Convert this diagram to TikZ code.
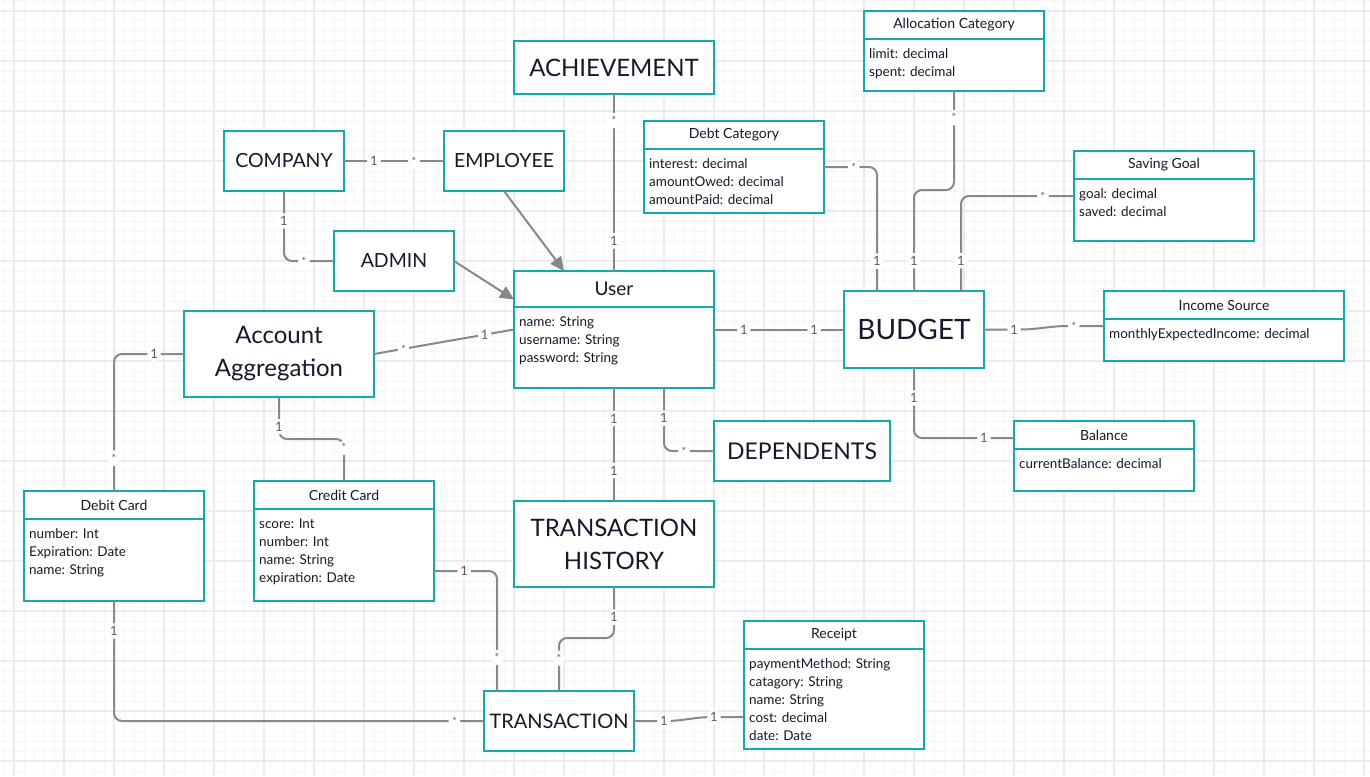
\documentclass[tikz,border=0pt]{standalone}
\usepackage{fontspec}
\setmainfont{Lato}
\usetikzlibrary{arrows.meta}

\definecolor{boxteal}{RGB}{18,170,170}
\definecolor{linkgray}{RGB}{136,136,136}
\definecolor{ink}{RGB}{24,24,44}
\definecolor{multgray}{RGB}{90,90,90}
\definecolor{gridmajor}{RGB}{236,236,236}
\definecolor{gridminor}{RGB}{246,246,246}

\begin{document}
\begin{tikzpicture}[x=1pt,y=-1pt,
    entity/.style={draw=boxteal, line width=2pt, fill=white, text=ink, inner sep=0pt, outer sep=0pt},
    classbox/.style={draw=boxteal, line width=2pt, fill=white, inner sep=0pt, outer sep=0pt, anchor=north},
    classname/.style={text=ink, font=\fontsize{14}{16}\selectfont, inner sep=0pt},
    attrs/.style={text=ink, font=\fontsize{13.5}{18}\selectfont, align=left, inner sep=0pt, anchor=north west},
    link/.style={draw=linkgray, line width=2pt, rounded corners=8pt},
    uses/.style={draw=linkgray, line width=2pt, -{Triangle[length=14pt,width=13pt]}},
    mult/.style={fill=white, text=multgray, font=\fontsize{13}{13}\selectfont, inner sep=3pt},
    many/.style={fill=white, text=multgray, font=\fontsize{11}{11}\selectfont, inner sep=3.5pt}]
    % background grid
    \useasboundingbox (0,0) rectangle (1370,776);
    \fill[white] (0,0) rectangle (1370,776);
    \foreach \gx in {4,14,...,1364} \draw[gridminor, line width=1pt] (\gx,0) -- (\gx,776);
    \foreach \gy in {1,11,...,771} \draw[gridminor, line width=1pt] (0,\gy) -- (1370,\gy);
    \foreach \gx in {14,64,...,1364} \draw[gridmajor, line width=1.6pt] (\gx,0) -- (\gx,776);
    \foreach \gy in {11,61,...,761} \draw[gridmajor, line width=1.6pt] (0,\gy) -- (1370,\gy);

    % plain entities
    \node[entity, minimum width=200, minimum height=53, font=\fontsize{24}{29}\selectfont] (achievement) at (614,67.5) {ACHIEVEMENT};
    \node[entity, minimum width=120, minimum height=60, font=\fontsize{19.5}{24}\selectfont] (company) at (284,161) {COMPANY};
    \node[entity, minimum width=120, minimum height=60, font=\fontsize{19.5}{24}\selectfont] (employee) at (504,161) {EMPLOYEE};
    \node[entity, minimum width=120, minimum height=60, font=\fontsize{19.5}{24}\selectfont] (admin) at (394,261) {ADMIN};
    \node[entity, minimum width=140, minimum height=77, font=\fontsize{28}{33}\selectfont] (budget) at (914,329.5) {BUDGET};
    \node[entity, minimum width=176, minimum height=60, font=\fontsize{23}{28}\selectfont] (dependents) at (802,451) {DEPENDENTS};
    \node[entity, minimum width=190, minimum height=86, align=center, font=\fontsize{24}{33}\selectfont] (aggregation) at (279,354) {Account\\Aggregation};
    \node[entity, minimum width=200, minimum height=86, align=center, font=\fontsize{24}{33}\selectfont] (history) at (614,544) {TRANSACTION\\HISTORY};
    \node[entity, minimum width=150, minimum height=60, font=\fontsize{20}{24}\selectfont] (transaction) at (559,721) {TRANSACTION};

    % classes
    \node[classbox, minimum width=200, minimum height=117] (user) at (614,271) {};
    \draw[boxteal, line width=2pt] ([yshift=-36]user.north west) -- ([yshift=-36]user.north east);
    \node[classname, font=\fontsize{19}{22}\selectfont] (user title) at ([yshift=-18]user.north) {User};
    \node[attrs] (user attrs) at ([xshift=5,yshift=-42.4]user.north west) {\strut name: String\\\strut username: String\\\strut password: String};

    \node[classbox, minimum width=180, minimum height=92] (debt) at (734,121) {};
    \draw[boxteal, line width=2pt] ([yshift=-28]debt.north west) -- ([yshift=-28]debt.north east);
    \node[classname] (debt title) at ([yshift=-14]debt.north) {Debt Category};
    \node[attrs] (debt attrs) at ([xshift=5,yshift=-34.4]debt.north west) {\strut interest: decimal\\\strut amountOwed: decimal\\\strut amountPaid: decimal};

    \node[classbox, minimum width=180, minimum height=80] (allocation) at (954,11) {};
    \draw[boxteal, line width=2pt] ([yshift=-28]allocation.north west) -- ([yshift=-28]allocation.north east);
    \node[classname] (allocation title) at ([yshift=-14]allocation.north) {Allocation Category};
    \node[attrs] (allocation attrs) at ([xshift=5,yshift=-34.4]allocation.north west) {\strut limit: decimal\\\strut spent: decimal};

    \node[classbox, minimum width=180, minimum height=90] (saving) at (1164,151) {};
    \draw[boxteal, line width=2pt] ([yshift=-28]saving.north west) -- ([yshift=-28]saving.north east);
    \node[classname] (saving title) at ([yshift=-14]saving.north) {Saving Goal};
    \node[attrs] (saving attrs) at ([xshift=5,yshift=-34.4]saving.north west) {\strut goal: decimal\\\strut saved: decimal};

    \node[classbox, minimum width=240, minimum height=70] (income) at (1224,291) {};
    \draw[boxteal, line width=2pt] ([yshift=-28]income.north west) -- ([yshift=-28]income.north east);
    \node[classname] (income title) at ([yshift=-14]income.north) {Income Source};
    \node[attrs] (income attrs) at ([xshift=5,yshift=-34.4]income.north west) {\strut monthlyExpectedIncome: decimal};

    \node[classbox, minimum width=180, minimum height=70] (balance) at (1104,421) {};
    \draw[boxteal, line width=2pt] ([yshift=-28]balance.north west) -- ([yshift=-28]balance.north east);
    \node[classname] (balance title) at ([yshift=-14]balance.north) {Balance};
    \node[attrs] (balance attrs) at ([xshift=5,yshift=-34.4]balance.north west) {\strut currentBalance: decimal};

    \node[classbox, minimum width=180, minimum height=110] (debit) at (114,491) {};
    \draw[boxteal, line width=2pt] ([yshift=-28]debit.north west) -- ([yshift=-28]debit.north east);
    \node[classname] (debit title) at ([yshift=-14]debit.north) {Debit Card};
    \node[attrs] (debit attrs) at ([xshift=5,yshift=-34.4]debit.north west) {\strut number: Int\\\strut Expiration: Date\\\strut name: String};

    \node[classbox, minimum width=180, minimum height=120] (credit) at (344,481) {};
    \draw[boxteal, line width=2pt] ([yshift=-28]credit.north west) -- ([yshift=-28]credit.north east);
    \node[classname] (credit title) at ([yshift=-14]credit.north) {Credit Card};
    \node[attrs] (credit attrs) at ([xshift=5,yshift=-34.4]credit.north west) {\strut score: Int\\\strut number: Int\\\strut name: String\\\strut expiration: Date};

    \node[classbox, minimum width=180, minimum height=128] (receipt) at (834,621) {};
    \draw[boxteal, line width=2pt] ([yshift=-28]receipt.north west) -- ([yshift=-28]receipt.north east);
    \node[classname] (receipt title) at ([yshift=-14]receipt.north) {Receipt};
    \node[attrs] (receipt attrs) at ([xshift=5,yshift=-34.4]receipt.north west) {\strut paymentMethod: String\\\strut catagory: String\\\strut name: String\\\strut cost: decimal\\\strut date: Date};

    % associations
    \draw[link] (company.east) -- node[mult, pos=0.3] (m1) {1} node[many, pos=0.7] (m2) {*} (employee.west);
    \draw[link] (company.south) |- node[mult, pos=0.214] (m3) {1} node[many, pos=0.7] (m4) {*} (admin.west);
    \draw[uses] (employee.south) -- ([xshift=-50]user.north);
    \draw[uses] (admin.east) -- ([yshift=30]user.west);
    \draw[link] (achievement.south) -- node[many, pos=0.15] (m5) {*} node[mult, pos=0.83] (m6) {1} (user.north);
    \draw[link] (debt.east) -| node[many, pos=0.28] (m7) {*} node[mult, pos=0.88] (m8) {1} ([xshift=-37]budget.north);
    \draw[link] (allocation.south) -- node[many, pos=0.27] (m9) {*} ++(0,99) -| node[mult, pos=0.85] (m10) {1} (budget.north);
    \draw[link] (saving.west) -| node[many, pos=0.137] (m11) {*} node[mult, pos=0.84] (m12) {1} ([xshift=47]budget.north);
    \draw[link] (user.east) -- node[mult, pos=0.23] (m13) {1} node[mult, pos=0.77] (m14) {1} (budget.west);
    \draw[link] (budget.east) -- node[mult, pos=0.67] (m15) {1} ++(45,0) -- ([xshift=-45]income.west) -- node[many, pos=0.33] (m16) {*} (income.west);
    \draw[link] (budget.south) |- node[mult, pos=0.214] (m17) {1} node[mult, pos=0.85] (m18) {1} ([yshift=18]balance.west);
    \draw[link] (aggregation.east) -- node[many, pos=0.21] (m19) {*} node[mult, pos=0.79] (m20) {1} (user.west);
    \draw[link] (aggregation.west) -| node[mult, pos=0.214] (m21) {1} node[many, pos=0.88] (m22) {*} (debit.north);
    \draw[link] (aggregation.south) -- node[mult, pos=0.71] (m23) {1} ++(0,42) -| node[many, pos=0.6] (m24) {*} (credit.north);
    \draw[link] ([yshift=-30]credit.east) -| node[mult, pos=0.24] (m25) {1} node[many, pos=0.86] (m26) {*} ([xshift=-62]transaction.north);
    \draw[link] (debit.south) |- node[mult, pos=0.125] (m27) {1} node[many, pos=0.96] (m28) {*} (transaction.west);
    \draw[link] (history.south) -- node[mult, pos=0.59] (m29) {1} ++(0,51) -| node[many, pos=0.69] (m30) {*} (transaction.north);
    \draw[link] (user.south) -- node[mult, pos=0.27] (m31) {1} node[mult, pos=0.73] (m32) {1} (history.north);
    \draw[link] ([xshift=50]user.south) |- node[mult, pos=0.24] (m33) {1} node[many, pos=0.7] (m34) {*} (dependents.west);
    \draw[link] (transaction.east) -- node[mult, pos=0.75] (m35) {1} ++(40,0) -- ([xshift=-40,yshift=-32]receipt.west) -- node[mult, pos=0.25] (m36) {1} ([yshift=-32]receipt.west);
\end{tikzpicture}
\end{document}
